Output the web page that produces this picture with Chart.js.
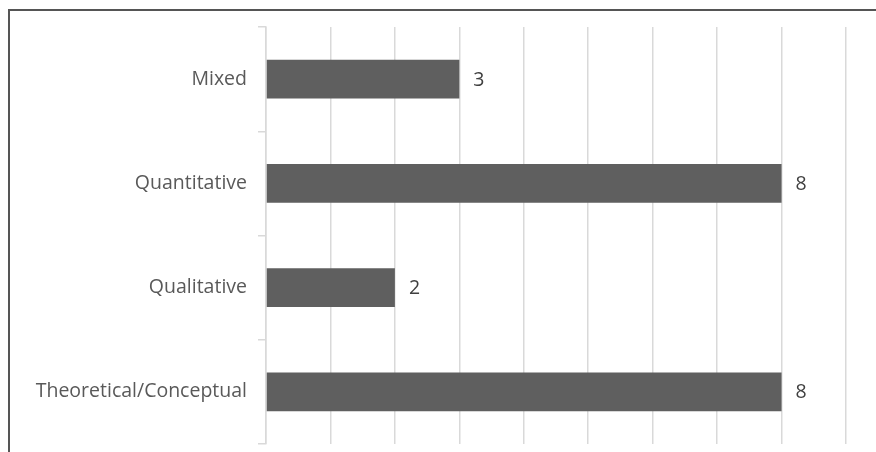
<!DOCTYPE html>
<html>
<head>
<meta charset="utf-8">
<script src="https://cdn.jsdelivr.net/npm/chart.js@4"></script>
<style>
  html, body { margin: 0; padding: 0; background: #fff; }
  #wrap { position: relative; width: 876px; height: 452px; }
  #frame { position: absolute; left: 8px; top: 9px; right: -2px; bottom: -2px;
           border-top: 2px solid #555; border-left: 2px solid #555; pointer-events: none; }
</style>
</head>
<body>
<div id="wrap">
  <canvas id="chart" width="876" height="452"></canvas>
  <div id="frame"></div>
</div>
<script>
var categories = ["Mixed", "Quantitative", "Qualitative", "Theoretical/Conceptual"];
var counts = [3, 8, 2, 8];
var xMax = 9;

// valeurs au bout des barres
var valueLabels = {
  id: "valueLabels",
  afterDatasetsDraw: function (chart) {
    var ctx = chart.ctx;
    var meta = chart.getDatasetMeta(0);
    ctx.save();
    ctx.font = "19.5px 'Open Sans'";
    ctx.fillStyle = "#404040";
    ctx.textAlign = "left";
    ctx.textBaseline = "middle";
    meta.data.forEach(function (bar, i) {
      ctx.fillText(String(counts[i]), bar.x + 14, bar.y + 1);
    });
    ctx.restore();
  },
};

var ctx = document.getElementById("chart").getContext("2d");
var myChart = new Chart(ctx, {
  type: "bar",
  data: {
    labels: categories,
    datasets: [
      {
        data: counts,
        backgroundColor: "#5f5f5f",
        borderWidth: 0,
        categoryPercentage: 1,
        barPercentage: 0.37,
      },
    ],
  },
  options: {
    indexAxis: "y",
    responsive: false,
    animation: false,
    layout: { padding: { left: 0, right: 30, top: 27, bottom: 8 } },
    scales: {
      x: {
        min: 0,
        max: xMax,
        ticks: { display: false, stepSize: 1 },
        grid: { color: "#d9d9d9", lineWidth: 1.5, drawTicks: false },
        border: { display: false },
        afterFit: function (scale) { scale.height = 0; },
      },
      y: {
        grid: {
          offset: true,
          drawOnChartArea: false,
          drawTicks: true,
          tickLength: 8,
          color: "#d9d9d9",
          lineWidth: 1.5,
        },
        border: { display: true, color: "#d9d9d9", width: 1.5 },
        ticks: {
          padding: 11,
          color: "#595959",
          font: { family: "'Open Sans'", size: 19.5 },
        },
        afterFit: function (scale) {
          scale.width = 266;
          scale.paddingTop = 0;
          scale.paddingBottom = 0;
        },
      },
    },
    plugins: {
      legend: { display: false },
      tooltip: { enabled: false },
    },
  },
  plugins: [valueLabels],
});
</script>
</body>
</html>
